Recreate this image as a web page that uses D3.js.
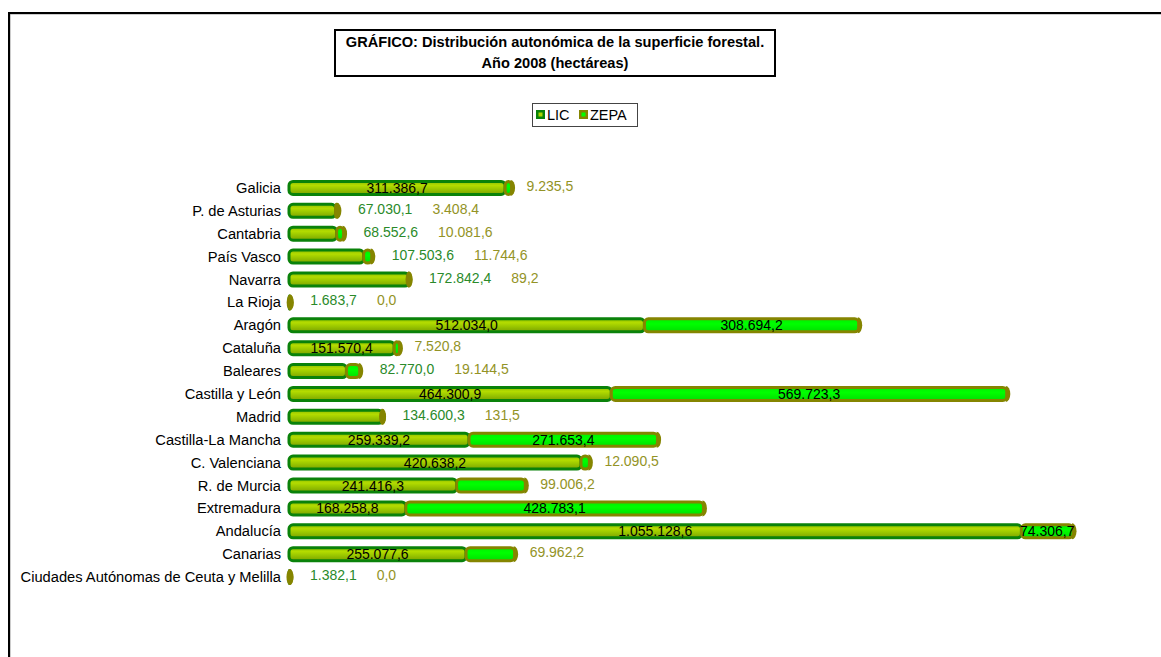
<!DOCTYPE html>
<html>
<head>
<meta charset="utf-8">
<script src="https://cdn.jsdelivr.net/npm/d3@7"></script>
<style>
  body { margin: 0; background: #fff; }
  svg text { font-family: "Liberation Sans", Arial, sans-serif; }
</style>
</head>
<body>
<div id="chart"></div>
<script>
// Superficie forestal por comunidad (ha)
var regiones = ["Galicia", "P. de Asturias", "Cantabria", "País Vasco", "Navarra", "La Rioja",
  "Aragón", "Cataluña", "Baleares", "Castilla y León", "Madrid", "Castilla-La Mancha",
  "C. Valenciana", "R. de Murcia", "Extremadura", "Andalucía", "Canarias",
  "Ciudades Autónomas de Ceuta y Melilla"];
var lic = [311386.7, 67030.1, 68552.6, 107503.6, 172842.4, 1683.7, 512034.0, 151570.4, 82770.0,
  464300.9, 134600.3, 259339.2, 420638.2, 241416.3, 168258.8, 1055128.6, 255077.6, 1382.1];
var zepa = [9235.5, 3408.4, 10081.6, 11744.6, 89.2, 0.0, 308694.2, 7520.8, 19144.5,
  569723.3, 131.5, 271653.4, 12090.5, 99006.2, 428783.1, 74306.7, 69962.2, 0.0];
var series = ["LIC", "ZEPA"];

var W = 1161, H = 657;
var svg = d3.select("#chart").append("svg")
  .attr("width", W).attr("height", H);

var fmt = d3.formatLocale({decimal: ",", thousands: ".", grouping: [3], currency: ["", ""]}).format(",.1f");

// gradients
var defs = svg.append("defs");
var gLic = defs.append("linearGradient").attr("id", "gLic")
  .attr("x1", 0).attr("y1", 0).attr("x2", 0).attr("y2", 1);
gLic.append("stop").attr("offset", "0%").attr("stop-color", "#8cbc00");
gLic.append("stop").attr("offset", "30%").attr("stop-color", "#b4dc00");
gLic.append("stop").attr("offset", "60%").attr("stop-color", "#99c600");
gLic.append("stop").attr("offset", "100%").attr("stop-color", "#7da200");
var gZepa = defs.append("linearGradient").attr("id", "gZepa")
  .attr("x1", 0).attr("y1", 0).attr("x2", 0).attr("y2", 1);
gZepa.append("stop").attr("offset", "0%").attr("stop-color", "#00f000");
gZepa.append("stop").attr("offset", "40%").attr("stop-color", "#00ff00");
gZepa.append("stop").attr("offset", "100%").attr("stop-color", "#00e000");

var licStroke = "#0a820a", zepaStroke = "#858500";
var licText = "#2a8a2a", zepaText = "#939326";

// outer frame
svg.append("rect")
  .attr("x", 10).attr("y", 14).attr("width", W).attr("height", H)
  .attr("fill", "none").attr("stroke", "#999").attr("stroke-width", 1);
svg.append("rect")
  .attr("x", 9).attr("y", 13).attr("width", W).attr("height", H)
  .attr("fill", "none").attr("stroke", "#000").attr("stroke-width", 2);

// title
svg.append("rect")
  .attr("x", 335).attr("y", 30).attr("width", 440).attr("height", 46)
  .attr("fill", "#fff").attr("stroke", "#000").attr("stroke-width", 2);
var title = svg.append("text").attr("text-anchor", "middle")
  .style("font-size", "14.6px").style("font-weight", "bold");
title.append("tspan").attr("x", 555).attr("y", 47)
  .text("GRÁFICO: Distribución autonómica de la superficie forestal.");
title.append("tspan").attr("x", 555).attr("y", 68)
  .text("Año 2008 (hectáreas)");

// legend
var lg = svg.append("g");
lg.append("rect").attr("x", 532.5).attr("y", 103.5).attr("width", 105).attr("height", 23)
  .attr("fill", "#fff").attr("stroke", "#444").attr("stroke-width", 1);
var legX = d3.scaleOrdinal().domain(series).range([536, 579]);
series.forEach(function (s, i) {
  var x0 = legX(s);
  lg.append("rect").attr("x", x0).attr("y", 110).attr("width", 9).attr("height", 9)
    .attr("fill", i === 0 ? "#088208" : "#858500");
  lg.append("rect").attr("x", x0 + 2.5).attr("y", 112.5).attr("width", 4).attr("height", 4)
    .attr("fill", i === 0 ? "#a8d400" : "#00ff00");
  lg.append("text").attr("x", x0 + 11).attr("y", 120)
    .style("font-size", "14.5px").attr("fill", "#000").text(s);
});

// scales
var x = d3.scaleLinear().domain([0, 1200000]).range([289, 1122]);
var y = d3.scaleBand().domain(regiones).range([176.5, 588.5]).paddingInner(0.4).paddingOuter(0.2);
var bh = 13;

var rows = svg.append("g").selectAll("g").data(regiones).enter().append("g")
  .attr("transform", function (d) { return "translate(0," + (y(d) + y.bandwidth() / 2) + ")"; });

rows.append("text")
  .attr("x", 281).attr("y", 5).attr("text-anchor", "end")
  .style("font-size", "14.7px").attr("fill", "#000")
  .text(function (d) { return d; });

// measurement helper
var meas = svg.append("text").style("font-size", "14px").attr("visibility", "hidden");
function tw(s) { meas.text(s); return meas.node().getComputedTextLength(); }

rows.each(function (d, i) {
  var g = d3.select(this);
  var a = lic[i], b = zepa[i];
  var x0 = x(0), x1 = x(a), x2 = x(a + b);
  // LIC segment
  g.append("rect")
    .attr("x", x0).attr("y", -bh / 2).attr("width", Math.max(x1 - x0, 0.5)).attr("height", bh)
    .attr("rx", 4).attr("ry", 4)
    .attr("fill", "url(#gLic)").attr("stroke", licStroke).attr("stroke-width", 3);
  // ZEPA segment
  if (x2 - x1 > 1) {
    g.append("rect")
      .attr("x", x1).attr("y", -bh / 2).attr("width", x2 - x1).attr("height", bh)
      .attr("rx", 4).attr("ry", 4)
      .attr("fill", "url(#gZepa)").attr("stroke", zepaStroke).attr("stroke-width", 3);
  }
  // end cap
  g.append("path")
    .attr("d", "M" + (x2 - 1) + "," + (-bh / 2 - 1.5) + " a4.5,8 0 0 1 0," + (bh + 3) + " z")
    .attr("fill", zepaStroke);
  if (x2 - x1 <= 1) {
    g.append("ellipse").attr("cx", x2).attr("cy", 0).attr("rx", 3.5).attr("ry", bh / 2 + 1.5)
      .attr("fill", zepaStroke);
  }

  // labels: inside when the segment has room, otherwise after the bar
  var la = fmt(a), lb = fmt(b);
  var wa = tw(la), wb = tw(lb);
  var licIn = (x1 - x0) > wa + 20 && (x2 - x1) > 1;
  var zepaIn = (x2 - x1) > wb + 20 || x2 + 90 > x.range()[1];
  var cursor = x2 + 15;
  if (licIn) {
    g.append("text").attr("x", (x0 + x1) / 2).attr("y", 5).attr("text-anchor", "middle")
      .style("font-size", "14px").attr("fill", "#000").text(la);
  } else {
    g.append("text").attr("x", x2 + 20).attr("y", 3).attr("text-anchor", "start")
      .style("font-size", "14px").attr("fill", licText).text(la);
    cursor = x2 + 20 + wa + 20;
  }
  if (zepaIn) {
    g.append("text").attr("x", (x1 + x2) / 2).attr("y", 5).attr("text-anchor", "middle")
      .style("font-size", "14px").attr("fill", "#000").text(lb);
  } else {
    g.append("text").attr("x", cursor).attr("y", 3).attr("text-anchor", "start")
      .style("font-size", "14px").attr("fill", zepaText).text(lb);
  }
});
meas.remove();
</script>
</body>
</html>
